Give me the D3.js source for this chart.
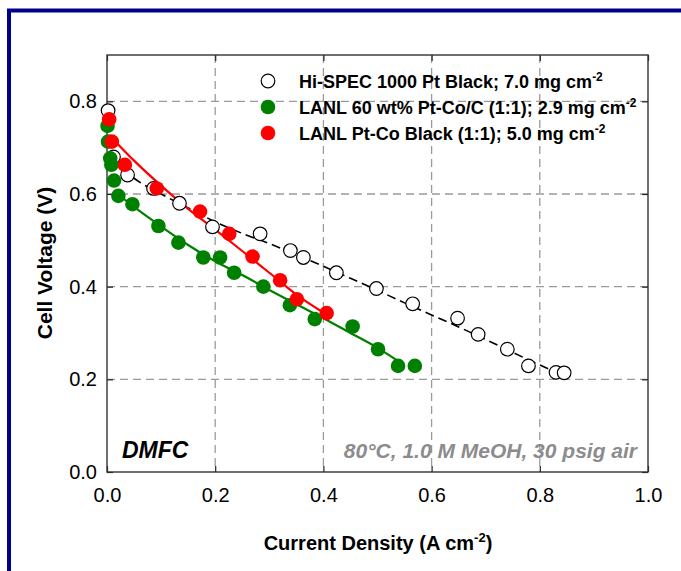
<!DOCTYPE html>
<html><head><meta charset="utf-8">
<script src="https://cdn.jsdelivr.net/npm/d3@7"></script>
<style>body{margin:0;background:#fff}svg{display:block}text{font-family:Arial,"Liberation Sans",sans-serif}</style>
</head><body><svg id="c" width="681" height="571"></svg>
<script>
// ---- data ----
const xTicks = [0.0, 0.2, 0.4, 0.6, 0.8, 1.0];
const yTicks = [0.0, 0.2, 0.4, 0.6, 0.8];
const seriesNames = ["Hi-SPEC 1000 Pt Black; 7.0 mg cm", "LANL 60 wt% Pt-Co/C (1:1); 2.9 mg cm", "LANL Pt-Co Black (1:1); 5.0 mg cm"];

const hiX = [0.002, 0.012, 0.038, 0.086, 0.134, 0.195, 0.283, 0.339, 0.363, 0.424, 0.498, 0.565, 0.648, 0.686, 0.740, 0.779, 0.830, 0.845];
const hiY = [0.780, 0.680, 0.641, 0.612, 0.580, 0.529, 0.514, 0.478, 0.463, 0.430, 0.396, 0.363, 0.332, 0.297, 0.265, 0.229, 0.215, 0.214];
const hiFitX = [0.01, 0.05, 0.10, 0.15, 0.20, 0.25, 0.30, 0.35, 0.40, 0.45, 0.50, 0.55, 0.60, 0.65, 0.70, 0.75, 0.80, 0.845];
const hiFitY = [0.675, 0.634, 0.600, 0.570, 0.540, 0.515, 0.493, 0.469, 0.444, 0.418, 0.392, 0.365, 0.339, 0.313, 0.286, 0.258, 0.231, 0.207];

const ccX = [0.001, 0.002, 0.006, 0.008, 0.013, 0.021, 0.047, 0.095, 0.132, 0.178, 0.209, 0.235, 0.289, 0.338, 0.384, 0.454, 0.501, 0.538, 0.569];
const ccY = [0.747, 0.713, 0.677, 0.663, 0.629, 0.596, 0.578, 0.531, 0.495, 0.463, 0.463, 0.430, 0.400, 0.360, 0.330, 0.314, 0.265, 0.229, 0.229];
const ccFitX = [0.02, 0.05, 0.10, 0.15, 0.20, 0.25, 0.30, 0.35, 0.40, 0.45, 0.50, 0.54];
const ccFitY = [0.600, 0.572, 0.530, 0.490, 0.455, 0.425, 0.393, 0.362, 0.332, 0.300, 0.268, 0.238];

const bkX = [0.004, 0.009, 0.033, 0.092, 0.172, 0.226, 0.269, 0.320, 0.351, 0.406];
const bkY = [0.761, 0.713, 0.663, 0.612, 0.562, 0.514, 0.465, 0.414, 0.373, 0.343];
const bkFitX = [0.01, 0.05, 0.10, 0.15, 0.20, 0.25, 0.30, 0.35, 0.41];
const bkFitY = [0.720, 0.672, 0.618, 0.568, 0.523, 0.477, 0.430, 0.383, 0.337];

// ---- chart ----
const svg = d3.select("#c");
const L = 107, R = 648, T = 55, B = 472;
const x = d3.scaleLinear().domain([0, 1]).range([L, R]);
const y = d3.scaleLinear().domain([0, 0.9]).range([B, T]);

// outer navy frame
svg.append("rect").attr("x", 9).attr("y", 10.5).attr("width", 700).attr("height", 600)
  .attr("fill", "none").attr("stroke", "#00008b").attr("stroke-width", 4);

// grid
const g = svg.append("g");
g.selectAll(".gx").data(xTicks.filter(d => d > 0 && d < 1)).enter().append("line")
  .attr("x1", d => x(d)).attr("x2", d => x(d)).attr("y1", T).attr("y2", B)
  .attr("stroke", "#9a9a9a").attr("stroke-width", 1.3).attr("stroke-dasharray", "8,5");
g.selectAll(".gy").data(yTicks.filter(d => d > 0)).enter().append("line")
  .attr("x1", L).attr("x2", R).attr("y1", d => y(d)).attr("y2", d => y(d))
  .attr("stroke", "#9a9a9a").attr("stroke-width", 1.3).attr("stroke-dasharray", "8,5");

// axes (ticks inward)
const fmt = d3.format(".1f");
const ax = svg.append("g").attr("transform", `translate(0,${B})`)
  .call(d3.axisBottom(x).tickValues(xTicks).tickFormat(fmt).tickSizeInner(-6).tickSizeOuter(0).tickPadding(16));
const axT = svg.append("g").attr("transform", `translate(0,${T})`)
  .call(d3.axisTop(x).tickValues(xTicks).tickFormat("").tickSizeInner(-6).tickSizeOuter(0));
const ay = svg.append("g").attr("transform", `translate(${L},0)`)
  .call(d3.axisLeft(y).tickValues(yTicks).tickFormat(fmt).tickSizeInner(-6).tickSizeOuter(0).tickPadding(10));
const ayR = svg.append("g").attr("transform", `translate(${R},0)`)
  .call(d3.axisRight(y).tickValues(yTicks).tickFormat("").tickSizeInner(-6).tickSizeOuter(0));
[ax, axT, ay, ayR].forEach(a => {
  a.select(".domain").remove();
  a.selectAll(".tick line").attr("stroke", "#222").attr("stroke-width", 1.2);
  a.selectAll("text").attr("font-size", 20).attr("fill", "#000").attr("font-family", "Arial, 'Liberation Sans', sans-serif");
});
ax.selectAll("text").attr("dy", "0.71em");
svg.append("rect").attr("x", L).attr("y", T).attr("width", R - L).attr("height", B - T)
  .attr("fill", "none").attr("stroke", "#333").attr("stroke-width", 1.4);

// fit lines
const line = d3.line().x(d => x(d[0])).y(d => y(d[1])).curve(d3.curveMonotoneX);
svg.append("path").datum(d3.zip(hiFitX, hiFitY)).attr("d", line)
  .attr("fill", "none").attr("stroke", "#000").attr("stroke-width", 1.6).attr("stroke-dasharray", "9,5");
svg.append("path").datum(d3.zip(ccFitX, ccFitY)).attr("d", line)
  .attr("fill", "none").attr("stroke", "#008000").attr("stroke-width", 2.2);
svg.append("path").datum(d3.zip(bkFitX, bkFitY)).attr("d", line)
  .attr("fill", "none").attr("stroke", "#ff0000").attr("stroke-width", 2.2);

// points
svg.append("g").selectAll("circle").data(d3.zip(hiX, hiY)).enter().append("circle")
  .attr("cx", d => x(d[0])).attr("cy", d => y(d[1])).attr("r", 6.8)
  .attr("fill", "#fff").attr("stroke", "#000").attr("stroke-width", 1.2);
svg.append("g").selectAll("circle").data(d3.zip(ccX, ccY)).enter().append("circle")
  .attr("cx", d => x(d[0])).attr("cy", d => y(d[1])).attr("r", 7.3).attr("fill", "#008000");
svg.append("g").selectAll("circle").data(d3.zip(bkX, bkY)).enter().append("circle")
  .attr("cx", d => x(d[0])).attr("cy", d => y(d[1])).attr("r", 7.3).attr("fill", "#ff0000");

// legend
const legStyles = [
  {fill: "#fff", stroke: "#000"},
  {fill: "#008000", stroke: "none"},
  {fill: "#ff0000", stroke: "none"}
];
const leg = svg.append("g");
seriesNames.forEach((name, i) => {
  const cy = 81 + i * 26;
  leg.append("circle").attr("cx", 268).attr("cy", cy).attr("r", i === 0 ? 6.8 : 7.3)
    .attr("fill", legStyles[i].fill).attr("stroke", legStyles[i].stroke).attr("stroke-width", 1.2);
  const t = leg.append("text").attr("x", 299).attr("y", cy + 6.5)
    .attr("font-size", 18).attr("font-weight", "bold").attr("fill", "#000");
  t.append("tspan").text(name);
  t.append("tspan").attr("dy", -7).attr("font-size", 12).text("-2");
});

// annotations
svg.append("text").attr("x", 122).attr("y", 458).attr("font-size", 23).attr("font-weight", "bold")
  .attr("font-style", "italic").attr("fill", "#000").text("DMFC");
svg.append("text").attr("x", 637).attr("y", 458).attr("text-anchor", "end").attr("font-size", 21)
  .attr("font-weight", "bold").attr("font-style", "italic").attr("fill", "#8c8c8c")
  .text("80°C, 1.0 M MeOH, 30 psig air");

// axis titles
const xt = svg.append("text").attr("x", 378).attr("y", 550).attr("text-anchor", "middle")
  .attr("font-size", 20).attr("font-weight", "bold").attr("fill", "#000");
xt.append("tspan").text("Current Density (A cm");
xt.append("tspan").attr("dy", -8).attr("font-size", 13).text("-2");
xt.append("tspan").attr("dy", 8).text(")");
svg.append("text").attr("transform", "translate(52,263) rotate(-90)").attr("text-anchor", "middle")
  .attr("font-size", 21).attr("font-weight", "bold").attr("fill", "#000").text("Cell Voltage (V)");
</script></body></html>
